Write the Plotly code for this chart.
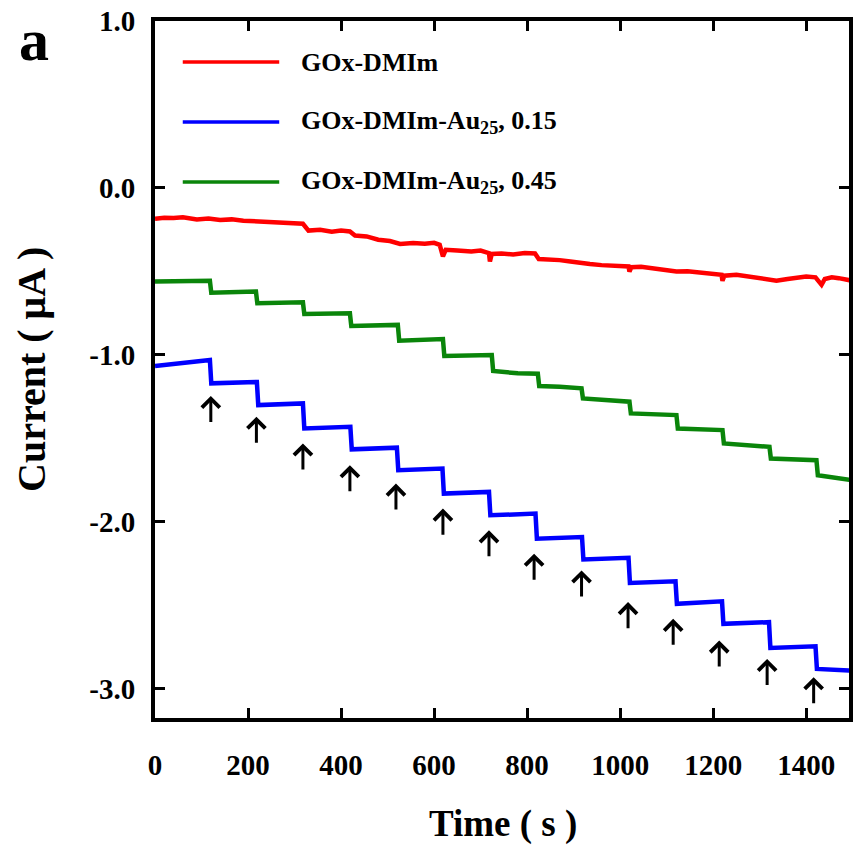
import plotly.graph_objects as go

# ---------------- data ----------------
red_t = [0, 20, 40, 60, 90, 115, 140, 165, 190, 215, 240, 265, 290, 318, 330, 355, 380, 400,
         419, 430, 455, 480, 505, 527, 555, 580, 600, 612, 619, 625, 650, 680, 700, 718, 720,
         724, 745, 770, 795, 817, 825, 850, 870, 893, 913, 935, 960, 990, 1018, 1020, 1024,
         1045, 1070, 1095, 1121, 1145, 1170, 1195, 1218, 1220, 1224, 1250, 1280, 1310, 1336,
         1360, 1380, 1400, 1420, 1433, 1440, 1455, 1470, 1485, 1500]
red_i = [-0.185, -0.178, -0.18, -0.175, -0.188, -0.183, -0.192, -0.188, -0.196, -0.2, -0.205,
         -0.21, -0.212, -0.214, -0.255, -0.25, -0.262, -0.255, -0.26, -0.285, -0.29, -0.31,
         -0.318, -0.335, -0.33, -0.334, -0.328, -0.34, -0.41, -0.37, -0.375, -0.38, -0.375,
         -0.39, -0.44, -0.395, -0.392, -0.398, -0.39, -0.392, -0.425, -0.428, -0.432, -0.44,
         -0.45, -0.455, -0.462, -0.465, -0.47, -0.50, -0.475, -0.472, -0.482, -0.49, -0.50,
         -0.498, -0.505, -0.51, -0.52, -0.556, -0.525, -0.52, -0.53, -0.54, -0.555, -0.545,
         -0.54, -0.53, -0.535, -0.58, -0.545, -0.535, -0.54, -0.55, -0.556]

blue_t = [0, 40, 80, 118, 121, 170, 219, 222, 270, 318, 321, 370, 420, 423, 470, 520, 523, 570,
          618, 621, 670, 718, 721, 770, 818, 821, 870, 918, 921, 970, 1018, 1021, 1070, 1119,
          1122, 1170, 1219, 1222, 1270, 1320, 1323, 1370, 1420, 1423, 1460, 1500]
blue_i = [-1.066, -1.055, -1.045, -1.03, -1.17, -1.168, -1.162, -1.30, -1.295, -1.29, -1.44,
          -1.435, -1.43, -1.565, -1.56, -1.555, -1.69, -1.685, -1.68, -1.83, -1.825, -1.82,
          -1.96, -1.955, -1.95, -2.10, -2.095, -2.09, -2.225, -2.22, -2.215, -2.365, -2.36,
          -2.355, -2.49, -2.485, -2.475, -2.61, -2.605, -2.60, -2.755, -2.75, -2.745, -2.88,
          -2.885, -2.89]

green_t = [0, 60, 118, 121, 170, 217, 220, 270, 318, 321, 370, 419, 422, 470, 522, 525, 570,
           619, 622, 670, 724, 727, 780, 823, 826, 870, 917, 920, 970, 1020, 1023, 1070, 1121,
           1124, 1170, 1220, 1223, 1270, 1321, 1324, 1370, 1422, 1425, 1460, 1500]
green_i = [-0.56, -0.558, -0.555, -0.627, -0.625, -0.62, -0.69, -0.688, -0.685, -0.755, -0.752,
           -0.75, -0.826, -0.822, -0.82, -0.915, -0.91, -0.905, -1.006, -1.003, -1.0, -1.096,
           -1.11, -1.112, -1.186, -1.19, -1.20, -1.26, -1.27, -1.28, -1.35, -1.355, -1.36,
           -1.44, -1.445, -1.45, -1.53, -1.54, -1.55, -1.62, -1.625, -1.63, -1.72, -1.735, -1.75]

arrow_t = [120, 218, 318, 419, 518, 619, 718, 815, 917, 1017, 1114, 1213, 1316, 1416]
arrow_tip = [-1.245, -1.37, -1.53, -1.66, -1.77, -1.92, -2.05, -2.19, -2.29, -2.48, -2.58,
             -2.71, -2.82, -2.93]
arrow_len = 0.165

series_names = ["GOx-DMIm", "GOx-DMIm-Au<sub>25</sub>, 0.15", "GOx-DMIm-Au<sub>25</sub>, 0.45"]
series_colors = ["#ff0000", "#0000ff", "#0a850a"]

x_ticks = [0, 200, 400, 600, 800, 1000, 1200, 1400]
x_ticktext = ["0", "200", "400", "600", "800", "1000", "1200", "1400"]
y_ticks = [1.0, 0.0, -1.0, -2.0, -3.0]
y_ticktext = ["1.0", "0.0", "-1.0", "-2.0", "-3.0"]

FONT = "Liberation Serif"

fig = go.Figure()
for t, i, c, n in [(red_t, red_i, series_colors[0], series_names[0]),
                   (blue_t, blue_i, series_colors[1], series_names[1]),
                   (green_t, green_i, series_colors[2], series_names[2])]:
    fig.add_trace(go.Scatter(x=t, y=i, mode="lines", name=n,
                             line=dict(color=c, width=4.5), showlegend=False))

annotations = []
for t, tip in zip(arrow_t, arrow_tip):
    annotations.append(dict(x=t, y=tip, ax=t, ay=tip - arrow_len, xref="x", yref="y",
                            axref="x", ayref="y", text="", showarrow=True, arrowhead=4,
                            arrowsize=1.15, arrowwidth=3, arrowcolor="black", standoff=0))

# legend (manual, to match the long line samples)
leg_y = [0.941, 0.855, 0.769]
shapes = []
for y, c, n in zip(leg_y, series_colors, series_names):
    shapes.append(dict(type="line", xref="paper", yref="paper", x0=0.040, x1=0.179,
                       y0=y, y1=y, line=dict(color=c, width=3.5)))
    annotations.append(dict(x=0.208, y=y, xref="paper", yref="paper", text="<b>%s</b>" % n,
                            showarrow=False, xanchor="left", yanchor="middle",
                            font=dict(family=FONT, size=26, color="black")))

annotations.append(dict(x=-0.178, y=0.5, xref="paper", yref="paper",
                        text="<b>Current ( μA )</b>", textangle=-90, showarrow=False,
                        xanchor="center", yanchor="middle",
                        font=dict(family=FONT, size=40, color="black")))
annotations.append(dict(x=0.501, y=-0.152, xref="paper", yref="paper",
                        text="<b>Time ( s )</b>", showarrow=False,
                        xanchor="center", yanchor="middle",
                        font=dict(family=FONT, size=37, color="black")))
annotations.append(dict(x=-0.175, y=0.973, xref="paper", yref="paper",
                        text="<b>a</b>", showarrow=False,
                        xanchor="center", yanchor="middle",
                        font=dict(family=FONT, size=60, color="black")))

axis_common = dict(showline=True, linecolor="black", linewidth=4, mirror="ticks",
                   ticks="inside", ticklen=10, tickwidth=3, tickcolor="black",
                   showgrid=False, zeroline=False,
                   tickfont=dict(family=FONT, size=29, color="black"))

fig.update_layout(
    width=856, height=848,
    margin=dict(l=155, r=3, t=21, b=130),
    paper_bgcolor="white", plot_bgcolor="white",
    xaxis=dict(range=[0, 1492], tickvals=x_ticks, ticktext=["<b>%s</b>" % s for s in x_ticktext],
               ticklabelstandoff=18, **axis_common),
    yaxis=dict(range=[-3.174, 1.0], tickvals=y_ticks, ticktext=["<b>%s</b>" % s for s in y_ticktext],
               ticklabelstandoff=10, **axis_common),
    shapes=shapes, annotations=annotations,
)

fig.write_html("out.html")
